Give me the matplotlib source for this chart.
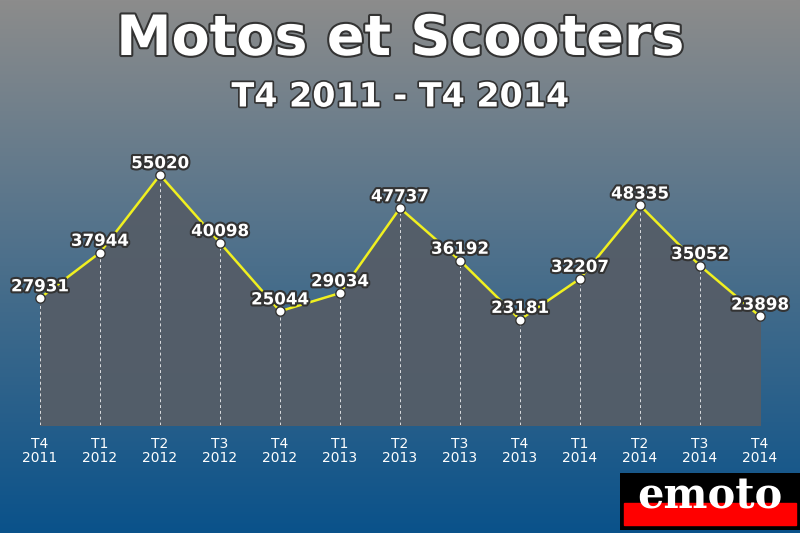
import matplotlib.pyplot as plt
import matplotlib.patheffects as pe
import numpy as np

quarters = ["T4", "T1", "T2", "T3", "T4", "T1", "T2", "T3", "T4", "T1", "T2", "T3", "T4"]
years = ["2011", "2012", "2012", "2012", "2012", "2013", "2013", "2013", "2013", "2014", "2014", "2014", "2014"]
values = [27931, 37944, 55020, 40098, 25044, 29034, 47737, 36192, 23181, 32207, 48335, 35052, 23898]

W, H = 800, 533
fig = plt.figure(figsize=(8, 5.33), dpi=100)

# background gradient
bg = fig.add_axes([0, 0, 1, 1])
grad = np.linspace(0, 1, 256)[:, None]
top = np.array([0x8c, 0x8c, 0x8c]) / 255
bot = np.array([0x0a, 0x52, 0x8a]) / 255
img = top[None, None, :] * (1 - grad[..., None]) + bot[None, None, :] * grad[..., None]
bg.imshow(img, aspect="auto", extent=[0, 1, 0, 1])
bg.axis("off")

# plot axes: x 40..760 px, y zero at 425 px
x0, x1 = 40 / W, 760 / W
ax = fig.add_axes([x0, 1 - 425 / H, x1 - x0, (425 - 175) / H])
ax.set_xlim(0, len(values) - 1)
ax.set_ylim(0, max(values))
ax.axis("off")
xs = np.arange(len(values))
ax.fill_between(xs, values, color="#555d68", alpha=0.95, zorder=1)
ax.vlines(xs, 0, values, colors="white", linestyles=(0, (3, 3)), linewidth=0.7, alpha=0.8, zorder=2)
ax.plot(xs, values, color="#f0f020", linewidth=1.8, zorder=3, clip_on=False)
ax.scatter(xs, values, s=45, color="white", edgecolor="#333333", linewidth=1, zorder=4, clip_on=False)
stroke = [pe.withStroke(linewidth=3, foreground="#333333")]
for x, v in zip(xs, values):
    ax.annotate(f"{v}", (x, v), xytext=(0, 2), textcoords="offset points",
                ha="center", va="bottom", fontsize=12, fontweight="bold",
                color="white", path_effects=stroke, zorder=5, annotation_clip=False)

for x, q, y in zip(xs, quarters, years):
    ax.annotate(f"{q}\n{y}", (x, 0), xytext=(0, -9), textcoords="offset points",
                ha="center", va="top", fontsize=10, color="white", linespacing=1.0,
                annotation_clip=False)

fig.text(0.5, 1 - 40 / H, "Motos et Scooters", ha="center", va="center", fontsize=40,
         fontweight="bold", color="white", path_effects=[pe.withStroke(linewidth=3, foreground="#333333")])
fig.text(0.5, 1 - 97 / H, "T4 2011 - T4 2014", ha="center", va="center", fontsize=24,
         fontweight="bold", color="white", path_effects=[pe.withStroke(linewidth=2.5, foreground="#333333")])

# logo
lg = fig.add_axes([620 / W, 1 - 530 / H, 180 / W, 57 / H])
lg.set_xlim(0, 1)
lg.set_ylim(0, 1)
lg.axis("off")
lg.add_patch(plt.Rectangle((0, 0), 1, 1, color="black"))
lg.add_patch(plt.Rectangle((0.02, 0.08), 0.96, 0.4, color="#ff0000"))
lg.text(0.5, 0.58, "emoto", ha="center", va="center", fontsize=30, fontweight="bold",
        color="white", family="DejaVu Serif")

fig.savefig("out.png", dpi=100)
